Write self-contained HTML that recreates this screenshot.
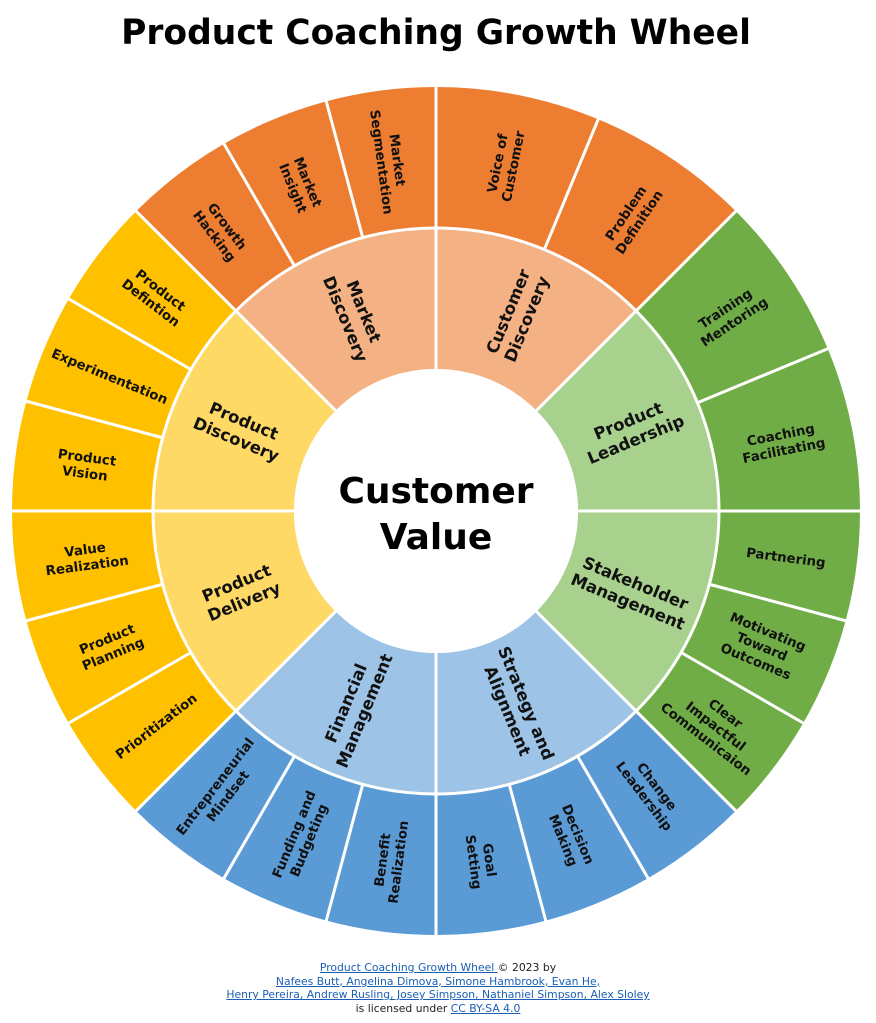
<!DOCTYPE html>
<html><head><meta charset="utf-8"><style>
body{margin:0;background:#fff;width:876px;height:1023px;overflow:hidden;font-family:"DejaVu Sans","Liberation Sans",sans-serif}
svg{position:absolute;left:0;top:0}
svg text{font-family:"DejaVu Sans","Liberation Sans",sans-serif}
.o{font-size:13.3px;font-weight:bold;fill:#111}
.m{font-size:16.5px;font-weight:bold;fill:#111}
.foot{position:absolute;left:0;width:876px;text-align:center;font-size:10.8px;color:#222;line-height:13.5px;top:961px}
.foot a{color:#1a5fb4;text-decoration:underline}
</style></head><body>
<svg width="876" height="1023" viewBox="0 0 876 1023">
<text x="436" y="44" text-anchor="middle" font-size="34.5" font-weight="bold" fill="#000">Product Coaching Growth Wheel</text>
<g fill="none" stroke-width="141">
<circle cx="436" cy="511" r="353.5" pathLength="360" stroke="#ED7D31" stroke-dasharray="90 270" transform="rotate(225 436 511)"/>
<circle cx="436" cy="511" r="353.5" pathLength="360" stroke="#70AD47" stroke-dasharray="90 270" transform="rotate(-45 436 511)"/>
<circle cx="436" cy="511" r="353.5" pathLength="360" stroke="#5B9BD5" stroke-dasharray="90 270" transform="rotate(45 436 511)"/>
<circle cx="436" cy="511" r="353.5" pathLength="360" stroke="#FFC000" stroke-dasharray="90 270" transform="rotate(135 436 511)"/>
<circle cx="436" cy="511" r="212.5" pathLength="360" stroke="#F4B183" stroke-dasharray="90 270" transform="rotate(225 436 511)"/>
<circle cx="436" cy="511" r="212.5" pathLength="360" stroke="#A9D18E" stroke-dasharray="90 270" transform="rotate(-45 436 511)"/>
<circle cx="436" cy="511" r="212.5" pathLength="360" stroke="#9DC3E6" stroke-dasharray="90 270" transform="rotate(45 436 511)"/>
<circle cx="436" cy="511" r="212.5" pathLength="360" stroke="#FFD966" stroke-dasharray="90 270" transform="rotate(135 436 511)"/>
</g>
<circle cx="436" cy="511" r="283" fill="none" stroke="#fff" stroke-width="3"/>
<circle cx="436" cy="511" r="142" fill="#fff"/>
<g stroke="#fff" stroke-width="3">
<line x1="436" y1="369" x2="436" y2="85" transform="rotate(0 436 511)"/>
<line x1="436" y1="369" x2="436" y2="85" transform="rotate(45 436 511)"/>
<line x1="436" y1="369" x2="436" y2="85" transform="rotate(90 436 511)"/>
<line x1="436" y1="369" x2="436" y2="85" transform="rotate(135 436 511)"/>
<line x1="436" y1="369" x2="436" y2="85" transform="rotate(180 436 511)"/>
<line x1="436" y1="369" x2="436" y2="85" transform="rotate(225 436 511)"/>
<line x1="436" y1="369" x2="436" y2="85" transform="rotate(270 436 511)"/>
<line x1="436" y1="369" x2="436" y2="85" transform="rotate(315 436 511)"/>
<line x1="436" y1="228" x2="436" y2="85" transform="rotate(22.5 436 511)"/>
<line x1="436" y1="228" x2="436" y2="85" transform="rotate(67.5 436 511)"/>
<line x1="436" y1="228" x2="436" y2="85" transform="rotate(105 436 511)"/>
<line x1="436" y1="228" x2="436" y2="85" transform="rotate(120 436 511)"/>
<line x1="436" y1="228" x2="436" y2="85" transform="rotate(150 436 511)"/>
<line x1="436" y1="228" x2="436" y2="85" transform="rotate(165 436 511)"/>
<line x1="436" y1="228" x2="436" y2="85" transform="rotate(195 436 511)"/>
<line x1="436" y1="228" x2="436" y2="85" transform="rotate(210 436 511)"/>
<line x1="436" y1="228" x2="436" y2="85" transform="rotate(240 436 511)"/>
<line x1="436" y1="228" x2="436" y2="85" transform="rotate(255 436 511)"/>
<line x1="436" y1="228" x2="436" y2="85" transform="rotate(285 436 511)"/>
<line x1="436" y1="228" x2="436" y2="85" transform="rotate(300 436 511)"/>
<line x1="436" y1="228" x2="436" y2="85" transform="rotate(330 436 511)"/>
<line x1="436" y1="228" x2="436" y2="85" transform="rotate(345 436 511)"/>
</g>
<text x="436" y="503" text-anchor="middle" font-size="36" font-weight="bold" fill="#000">Customer</text>
<text x="436" y="549" text-anchor="middle" font-size="36" font-weight="bold" fill="#000">Value</text>

<g class="o" text-anchor="middle">
<g transform="translate(436 511) rotate(-78.75) translate(353 0)"><text><tspan x="0" dy="-3">Voice of</tspan><tspan x="0" dy="16">Customer</tspan></text></g>
<g transform="translate(436 511) rotate(-56.25) translate(353 0)"><text><tspan x="0" dy="-3">Problem</tspan><tspan x="0" dy="16">Definition</tspan></text></g>
<g transform="translate(436 511) rotate(-33.75) translate(353 0)"><text><tspan x="0" dy="-3">Training</tspan><tspan x="0" dy="16">Mentoring</tspan></text></g>
<g transform="translate(436 511) rotate(-11.25) translate(353 0)"><text><tspan x="0" dy="-3">Coaching</tspan><tspan x="0" dy="16">Facilitating</tspan></text></g>
<g transform="translate(436 511) rotate(7.5) translate(353 0)"><text><tspan x="0" dy="5">Partnering</tspan></text></g>
<g transform="translate(436 511) rotate(22.5) translate(353 0)"><text><tspan x="0" dy="-11">Motivating</tspan><tspan x="0" dy="16">Toward</tspan><tspan x="0" dy="16">Outcomes</tspan></text></g>
<g transform="translate(436 511) rotate(37.5) translate(353 0)"><text><tspan x="0" dy="-11">Clear</tspan><tspan x="0" dy="16">Impactful</tspan><tspan x="0" dy="16">Communicaion</tspan></text></g>
<g transform="translate(436 511) rotate(52.5) translate(353 0)"><text><tspan x="0" dy="-3">Change</tspan><tspan x="0" dy="16">Leadership</tspan></text></g>
<g transform="translate(436 511) rotate(67.5) translate(353 0)"><text><tspan x="0" dy="-3">Decision</tspan><tspan x="0" dy="16">Making</tspan></text></g>
<g transform="translate(436 511) rotate(82.5) translate(353 0)"><text><tspan x="0" dy="-3">Goal</tspan><tspan x="0" dy="16">Setting</tspan></text></g>
<g transform="translate(436 511) rotate(97.5) translate(353 0) rotate(180)"><text><tspan x="0" dy="-3">Benefit</tspan><tspan x="0" dy="16">Realization</tspan></text></g>
<g transform="translate(436 511) rotate(112.5) translate(353 0) rotate(180)"><text><tspan x="0" dy="-3">Funding and</tspan><tspan x="0" dy="16">Budgeting</tspan></text></g>
<g transform="translate(436 511) rotate(127.5) translate(353 0) rotate(180)"><text><tspan x="0" dy="-3">Entrepreneurial</tspan><tspan x="0" dy="16">Mindset</tspan></text></g>
<g transform="translate(436 511) rotate(142.5) translate(353 0) rotate(180)"><text><tspan x="0" dy="5">Prioritization</tspan></text></g>
<g transform="translate(436 511) rotate(157.5) translate(353 0) rotate(180)"><text><tspan x="0" dy="-3">Product</tspan><tspan x="0" dy="16">Planning</tspan></text></g>
<g transform="translate(436 511) rotate(172.5) translate(353 0) rotate(180)"><text><tspan x="0" dy="-3">Value</tspan><tspan x="0" dy="16">Realization</tspan></text></g>
<g transform="translate(436 511) rotate(187.5) translate(353 0) rotate(180)"><text><tspan x="0" dy="-3">Product</tspan><tspan x="0" dy="16">Vision</tspan></text></g>
<g transform="translate(436 511) rotate(202.5) translate(353 0) rotate(180)"><text><tspan x="0" dy="5">Experimentation</tspan></text></g>
<g transform="translate(436 511) rotate(217.5) translate(353 0) rotate(180)"><text><tspan x="0" dy="-3">Product</tspan><tspan x="0" dy="16">Defintion</tspan></text></g>
<g transform="translate(436 511) rotate(232.5) translate(353 0) rotate(180)"><text><tspan x="0" dy="-3">Growth</tspan><tspan x="0" dy="16">Hacking</tspan></text></g>
<g transform="translate(436 511) rotate(247.5) translate(353 0) rotate(180)"><text><tspan x="0" dy="-3">Market</tspan><tspan x="0" dy="16">Insight</tspan></text></g>
<g transform="translate(436 511) rotate(262.5) translate(353 0) rotate(180)"><text><tspan x="0" dy="-3">Market</tspan><tspan x="0" dy="16">Segmentation</tspan></text></g>
</g>

<g class="m" text-anchor="middle">
<g transform="translate(436 511) rotate(-67.5) translate(212 0)"><text><tspan x="0" dy="-4">Customer</tspan><tspan x="0" dy="20">Discovery</tspan></text></g>
<g transform="translate(436 511) rotate(-22.5) translate(212 0)"><text><tspan x="0" dy="-4">Product</tspan><tspan x="0" dy="20">Leadership</tspan></text></g>
<g transform="translate(436 511) rotate(22.5) translate(212 0)"><text><tspan x="0" dy="-4">Stakeholder</tspan><tspan x="0" dy="20">Management</tspan></text></g>
<g transform="translate(436 511) rotate(67.5) translate(212 0)"><text><tspan x="0" dy="-4">Strategy and</tspan><tspan x="0" dy="20">Alignment</tspan></text></g>
<g transform="translate(436 511) rotate(112.5) translate(212 0) rotate(180)"><text><tspan x="0" dy="-4">Financial</tspan><tspan x="0" dy="20">Management</tspan></text></g>
<g transform="translate(436 511) rotate(157.5) translate(212 0) rotate(180)"><text><tspan x="0" dy="-4">Product</tspan><tspan x="0" dy="20">Delivery</tspan></text></g>
<g transform="translate(436 511) rotate(202.5) translate(212 0) rotate(180)"><text><tspan x="0" dy="-4">Product</tspan><tspan x="0" dy="20">Discovery</tspan></text></g>
<g transform="translate(436 511) rotate(247.5) translate(212 0) rotate(180)"><text><tspan x="0" dy="-4">Market</tspan><tspan x="0" dy="20">Discovery</tspan></text></g>
</g>
</svg>
<div class="foot">
<a>Product Coaching Growth Wheel </a> © 2023 by<br>
<a>Nafees Butt, Angelina Dimova, Simone Hambrook, Evan He,</a><br>
<a>Henry Pereira, Andrew Rusling, Josey Simpson, Nathaniel Simpson, Alex Sloley</a><br>
is licensed under <a>CC BY-SA 4.0 </a>
</div>
</body></html>
